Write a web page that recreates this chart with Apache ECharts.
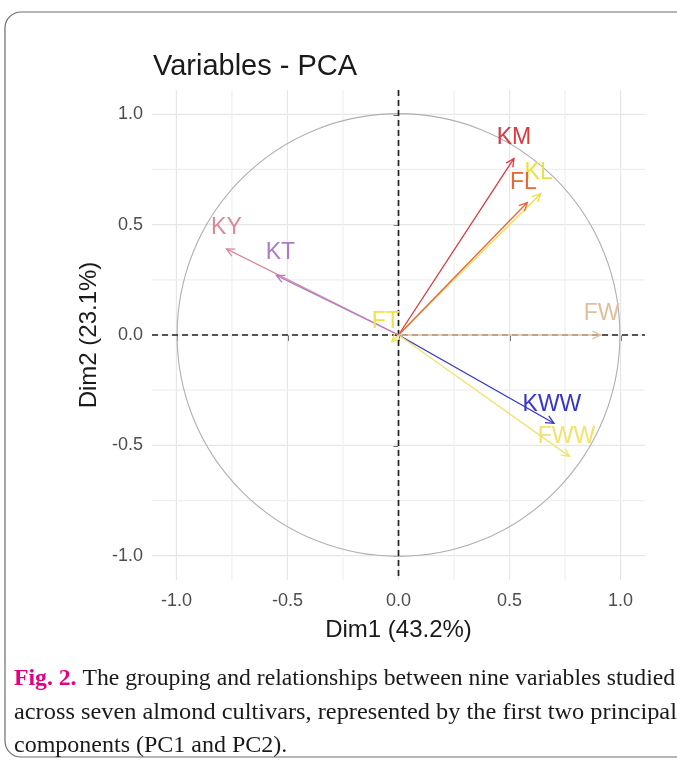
<!DOCTYPE html>
<html><head><meta charset="utf-8">
<script src="https://cdn.jsdelivr.net/npm/echarts@6/dist/echarts.min.js"></script>
<style>html,body{margin:0;padding:0;background:#fff}#c{width:677px;height:763px}</style>
</head><body><div id="c"></div>
<script>
// ---- data ----
const variables = ['KM','KL','FL','FW','KWW','FWW','KY','KT','FT'];
const dim1 = [0.52, 0.64, 0.58, 0.91, 0.70, 0.77, -0.775, -0.55, -0.03];
const dim2 = [0.80, 0.64, 0.60, 0.00, -0.40, -0.55, 0.39, 0.27, -0.03];
const tickValues = [-1.0, -0.5, 0.0, 0.5, 1.0];
const minorGrid = [-0.75, -0.25, 0.25, 0.75];
const xName = 'Dim1 (43.2%)';
const yName = 'Dim2 (23.1%)';
const titleText = 'Variables - PCA';

// ---- styles ----
const colors = {KM:'#d63a42', KL:'#ece048', FL:'#e6673a', FW:'#e2bf9c', KWW:'#3535c6', FWW:'#f0e36e', KY:'#d98a9b', KT:'#b07acb', FT:'#f0e24c'};
const labelOffset = {KM:[0,-21], KL:[-2,-21], FL:[-4,-20], FW:[1,-21], KWW:[-2,-19], FWW:[-3,-20], KY:[0,-21], KT:[4,-23], FT:[-6,-20]};

const chart = echarts.init(document.getElementById('c'), null, {renderer:'canvas'});
const FONT = '"Liberation Sans", Arial, sans-serif';
const SERIF = '"Liberation Serif", "Times New Roman", serif';

const gridData = tickValues.map(v => [v, 1]).concat(minorGrid.map(v => [v, 0]));
const arrowData = variables.map((n, i) => [dim1[i], dim2[i], i]);

const option = {
  animation: false,
  backgroundColor: '#fff',
  title: {text: titleText, left: 148, top: 47, textStyle:{fontFamily: FONT, fontSize: 29, fontWeight: 'normal', color:'#1a1a1a'}},
  grid: {left: 152, right: 32, top: 90, bottom: 183},
  xAxis: {
    type:'value', min:-1.11, max:1.11,
    name: xName, nameLocation:'middle', nameGap: 38,
    nameTextStyle:{fontFamily: FONT, fontSize: 24, color:'#1a1a1a'},
    axisLine:{show:false}, splitLine:{show:false},
    axisTick:{show:true, customValues: tickValues, length:6, lineStyle:{color:'#333', width:1.5}},
    axisLabel:{customValues: tickValues, formatter: v => v.toFixed(1), fontFamily: FONT, fontSize: 18, color:'#4d4d4d', margin: 12}
  },
  yAxis: {
    type:'value', min:-1.11, max:1.11,
    name: yName, nameLocation:'middle', nameGap: 48, nameRotate: 90,
    nameTextStyle:{fontFamily: FONT, fontSize: 24, color:'#1a1a1a'},
    axisLine:{show:false}, splitLine:{show:false},
    axisTick:{show:true, customValues: tickValues, length:5, lineStyle:{color:'#333', width:1.5}},
    axisLabel:{customValues: tickValues, formatter: v => v.toFixed(1), fontFamily: FONT, fontSize: 18, color:'#4d4d4d', margin: 9}
  },
  series: [
    { // gridlines
      type:'custom', z:1, silent:true, data: gridData,
      renderItem: (params, api) => {
        const cs = params.coordSys;
        const v = api.value(0);
        const px = api.coord([v, 0])[0];
        const py = api.coord([0, v])[1];
        const col = api.value(1) ? '#e6e6e6' : '#efefef';
        return {type:'group', children:[
          {type:'line', shape:{x1:px, y1:cs.y, x2:px, y2:cs.y+cs.height}, style:{stroke:col, lineWidth:1.2}},
          {type:'line', shape:{x1:cs.x, y1:py, x2:cs.x+cs.width, y2:py}, style:{stroke:col, lineWidth:1.2}}
        ]};
      }
    },
    { // unit circle
      type:'custom', z:2, silent:true, data:[[0,0]],
      renderItem: (params, api) => {
        const c = api.coord([0,0]);
        const s = api.size([1,1]);
        return {type:'circle', shape:{cx:c[0], cy:c[1], r:(s[0]+s[1])/2}, style:{stroke:'#b0b0b0', fill:null, lineWidth:1.1}};
      }
    },
    { // zero lines
      type:'custom', z:3, silent:true, data:[[0,0]],
      renderItem: (params, api) => {
        const cs = params.coordSys;
        const c = api.coord([0,0]);
        const st = {stroke:'#222', lineWidth:1.7, lineDash:[6,4]};
        return {type:'group', children:[
          {type:'line', shape:{x1:c[0], y1:cs.y, x2:c[0], y2:cs.y+cs.height}, style:st},
          {type:'line', shape:{x1:cs.x, y1:c[1], x2:cs.x+cs.width, y2:c[1]}, style:st}
        ]};
      }
    },
    { // arrows
      type:'custom', z:4, silent:true, data: arrowData,
      renderItem: (params, api) => {
        const i = api.value(2);
        const name = variables[i];
        const col = colors[name];
        const o = api.coord([0,0]);
        const p = api.coord([api.value(0), api.value(1)]);
        const ang = Math.atan2(p[1]-o[1], p[0]-o[0]);
        const L = 9, a = Math.PI/7;
        const h1 = [p[0]-L*Math.cos(ang-a), p[1]-L*Math.sin(ang-a)];
        const h2 = [p[0]-L*Math.cos(ang+a), p[1]-L*Math.sin(ang+a)];
        const off = labelOffset[name];
        return {type:'group', children:[
          {type:'line', shape:{x1:o[0], y1:o[1], x2:p[0], y2:p[1]}, style:{stroke:col, lineWidth:1.3}},
          {type:'polyline', shape:{points:[h1, p, h2]}, style:{stroke:col, fill:null, lineWidth:1.3}},
          {type:'text', x:p[0]+off[0], y:p[1]+off[1], style:{text:name, fill:col, font:'23px ' + FONT, align:'center', verticalAlign:'middle'}}
        ]};
      }
    }
  ],
  graphic: [
    {type:'rect', shape:{x:5, y:12, width:700, height:745, r:16}, style:{fill:null, stroke:'#6e6e6e', lineWidth:1.2}, z:0, silent:true},
    {type:'text', x:14, y:667, scaleX:0.987, style:{
      rich:{m:{fill:'#e4007f', fontWeight:'bold', fontFamily: SERIF, fontSize:24},
            n:{fill:'#1a1a1a', fontFamily: SERIF, fontSize:24}},
      text:'{m|Fig. 2.}{n| The grouping and relationships between nine variables studied}'}},
    {type:'text', x:14, y:701, scaleX:1.015, style:{fill:'#1a1a1a', font:'24px ' + SERIF,
      text:'across seven almond cultivars, represented by the first two principal'}},
    {type:'text', x:14, y:734, style:{fill:'#1a1a1a', font:'24px ' + SERIF,
      text:'components (PC1 and PC2).'}}
  ]
};
chart.setOption(option);
</script>
</body></html>
